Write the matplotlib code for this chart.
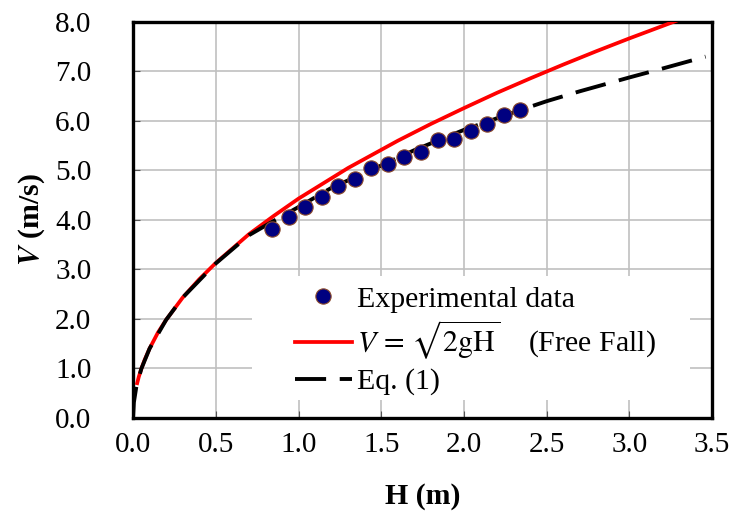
import matplotlib

matplotlib.use("Agg")
import matplotlib.pyplot as plt
from matplotlib.patches import Rectangle

# experimental points
h_exp = [0.84, 0.94, 1.04, 1.14, 1.24, 1.34, 1.44, 1.54,
         1.64, 1.74, 1.84, 1.94, 2.04, 2.14, 2.24, 2.34]
v_exp = [3.82, 4.05, 4.26, 4.46, 4.68, 4.83, 5.04, 5.13,
         5.28, 5.38, 5.62, 5.64, 5.79, 5.94, 6.13, 6.22]

# free fall curve
h_ff = [0.025, 0.035, 0.05, 0.07, 0.1, 0.15, 0.2, 0.3, 0.4, 0.5, 0.7,
        0.85, 1.0, 1.3, 1.6, 1.8, 2.0, 2.2, 2.4, 2.6, 2.8, 3.0, 3.28]
v_ff = [0.70, 0.83, 0.99, 1.17, 1.40, 1.72, 1.98, 2.43, 2.80, 3.13, 3.71,
        4.08, 4.43, 5.05, 5.60, 5.94, 6.26, 6.57, 6.86, 7.14, 7.41, 7.67, 8.02]

# Eq. (1) curve
h_eq = [0.0, 0.005, 0.02, 0.05, 0.1, 0.2, 0.3, 0.5, 0.7, 0.85, 1.0, 1.2,
        1.5, 1.7, 2.0, 2.34, 2.5, 2.7, 3.0, 3.2, 3.46]
v_eq = [0.0, 0.31, 0.63, 0.99, 1.40, 1.98, 2.43, 3.12, 3.69, 3.98, 4.26,
        4.65, 5.10, 5.41, 5.82, 6.22, 6.40, 6.60, 6.88, 7.06, 7.30]

x_ticks = [0.0, 0.5, 1.0, 1.5, 2.0, 2.5, 3.0, 3.5]
y_ticks = [0.0, 1.0, 2.0, 3.0, 4.0, 5.0, 6.0, 7.0, 8.0]

plt.rcParams["font.family"] = ["Liberation Serif", "DejaVu Serif"]
plt.rcParams["mathtext.fontset"] = "stix"

fig = plt.figure(figsize=(7.35, 5.12), dpi=100)
ax = fig.add_axes([0.181, 0.184, 0.788, 0.773])

ax.plot(h_exp, v_exp, "o", color="#000080", markeredgecolor="#8B4A2B",
        markeredgewidth=0.8, markersize=11, label="Experimental data", zorder=4)
ax.plot(h_ff, v_ff, color="#FF0000", linewidth=2.7,
        label=r"$V\,=\,\sqrt{2\mathrm{gH}}$    (Free Fall)", zorder=3)
ax.plot(h_eq, v_eq, color="black", linewidth=2.8, dashes=(8, 3.5),
        label="Eq. (1)", zorder=3)

ax.set_xlim(0, 3.5)
ax.set_ylim(0, 8)
ax.set_xticks(x_ticks)
ax.set_yticks(y_ticks)
ax.set_xticklabels([f"{t:.1f}" for t in x_ticks])
ax.set_yticklabels([f"{t:.1f}" for t in y_ticks])
ax.tick_params(axis="both", direction="in", length=5, width=0.8,
               labelsize=21, color="#555555")
ax.tick_params(axis="x", pad=10)
ax.tick_params(axis="y", pad=30)
ax.grid(color="#C0C0C0", linewidth=1.2)
ax.set_axisbelow(True)
for s in ax.spines.values():
    s.set_linewidth(2.4)

ax.set_xlabel("H (m)", fontsize=21.5, fontweight="bold", labelpad=18)
ax.set_ylabel(r"$\mathbfit{V}$ (m/s)", fontsize=21.5, fontweight="bold",
              labelpad=6)

# white box behind the legend hides the grid
ax.add_patch(Rectangle((252 / 735, 1 - 400 / 512), (690 - 252) / 735,
                       (400 - 276) / 512, transform=fig.transFigure,
                       facecolor="white", edgecolor="none", zorder=2))

leg = ax.legend(loc="upper left", bbox_to_anchor=(295 / 735, 1 - 286 / 512),
                bbox_transform=fig.transFigure, fontsize=21.5, frameon=False,
                borderpad=0, handlelength=1.9, handletextpad=0.17,
                labelspacing=0.2, borderaxespad=0)

fig.savefig("out.png", dpi=100)
